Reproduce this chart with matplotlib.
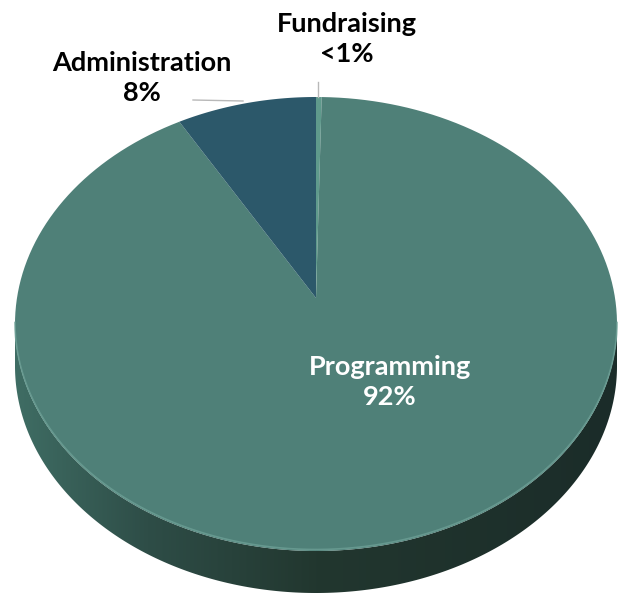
import numpy as np
import matplotlib.pyplot as plt
from matplotlib.patches import Polygon
from matplotlib.colors import LinearSegmentedColormap

# Datos del gráfico (sentido horario desde las 12)
categories = ['Fundraising', 'Programming', 'Administration']
values = [0.3, 92.2, 7.5]
labels = ['<1%', '92%', '8%']
colors = ['#5f9a8c', '#4f8078', '#2c586a']

# Geometría de la tarta en píxeles
cx, cy = 316, 324     # centro de la elipse exterior
a, b = 301, 227       # semiejes
y0 = 298              # vértice (perspectiva)
depth = 42            # grosor del lateral


def point(r, th):
    return cx + a * r * np.cos(th), y0 + (cy - y0) * r - b * r * np.sin(th)


fig = plt.figure(figsize=(6.19, 5.95), dpi=100)
ax = fig.add_axes([0, 0, 1, 1])
ax.set_xlim(0, 619)
ax.set_ylim(595, 0)
ax.axis('off')

# Lateral con degradado
t = np.linspace(np.pi, 2 * np.pi, 300)
top_x = cx + a * np.cos(t)
top_y = cy - b * np.sin(t)
side = np.vstack([np.column_stack([top_x, top_y]),
                  np.column_stack([top_x[::-1], top_y[::-1] + depth])])
side_patch = Polygon(side, closed=True, facecolor='none', edgecolor='none')
ax.add_patch(side_patch)
cmap = LinearSegmentedColormap.from_list(
    'side', [(0, '#3f6d64'), (0.22, '#2e4d47'), (0.5, '#22372f'), (1, '#1b2c29')])
grad = np.linspace(0, 1, 256).reshape(1, -1)
img = ax.imshow(grad, cmap=cmap, extent=[cx - a, cx + a, cy + b + depth + 2, cy - 2],
                aspect='auto', zorder=1)
img.set_clip_path(side_patch)

# Cara superior
bounds = 90 - 360 * np.concatenate([[0], np.cumsum(values)]) / sum(values)
for i in range(len(values)):
    th = np.radians(np.linspace(bounds[i], bounds[i + 1], 200))
    ox, oy = point(1, th)
    px, py = point(0, 0)
    poly = np.vstack([[px, py], np.column_stack([ox, oy])])
    ax.add_patch(Polygon(poly, closed=True, facecolor=colors[i],
                         edgecolor='none', zorder=2))

# Brillo del borde frontal
ax.plot(top_x, top_y - 1.5, color='#6c9f95', lw=1.2, alpha=0.8, zorder=3)

# Líneas guía
ax.plot([193, 243], [100, 101], color='#b8b8b8', lw=1, zorder=3)
ax.plot([318, 318], [82, 97], color='#b8b8b8', lw=1, zorder=3)

font = dict(family='Lato', weight='bold', fontsize=19.5, ha='center',
            va='center', linespacing=1.3, zorder=4)
ax.text(347, 39, categories[0] + '\n' + labels[0], color='black', **font)
ax.text(390, 382, categories[1] + '\n' + labels[1], color='white', **font)
ax.text(142, 78, categories[2] + '\n' + labels[2], color='black', **font)

fig.savefig('out.png', dpi=100, facecolor='white')
